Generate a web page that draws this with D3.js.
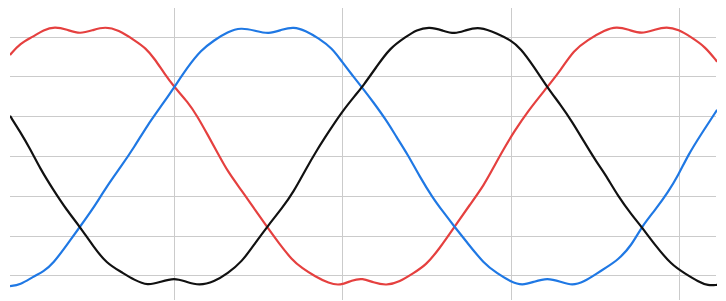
<!DOCTYPE html>
<html>
<head>
<meta charset="utf-8">
<script src="https://cdn.jsdelivr.net/npm/d3@7"></script>
<style>
  body { margin: 0; background: #fff; }
  .grid line { stroke: #cbcbcb; stroke-width: 1; shape-rendering: crispEdges; }
  .grid path { display: none; }
  .grid text { display: none; }
</style>
</head>
<body>
<script>
// time in ms, values per phase
var gridTimes = [6, 12, 18, 24];
var gridLevels = [-3, -2, -1, 0, 1, 2, 3];

var phaseA = [ // red
  [0.16, 2.54], [0.52, 2.83], [0.99, 3.00], [1.35, 3.17], [1.76, 3.25], [2.18, 3.18],
  [2.65, 3.06], [3.13, 3.17], [3.54, 3.25], [4.02, 3.17], [4.59, 2.91], [5.00, 2.71],
  [5.30, 2.45], [5.65, 2.08], [6.01, 1.73], [6.49, 1.36], [6.84, 0.99], [7.20, 0.53],
  [7.56, 0.07], [7.91, -0.39], [8.42, -0.88], [8.89, -1.36], [9.31, -1.78], [9.73, -2.19],
  [10.20, -2.61], [10.56, -2.82], [11.03, -3.03], [11.51, -3.20], [11.92, -3.26], [12.34, -3.12],
  [12.71, -3.07], [13.09, -3.18], [13.56, -3.26], [14.04, -3.16], [14.51, -2.95], [14.98, -2.74],
  [15.46, -2.32], [15.99, -1.78], [16.53, -1.23], [17.04, -0.73], [17.39, -0.27], [17.75, 0.19],
  [18.11, 0.61], [18.58, 1.11], [19.29, 1.73], [19.77, 2.16], [20.24, 2.66], [20.72, 2.91],
  [21.35, 3.17], [21.76, 3.25], [22.18, 3.18], [22.65, 3.06], [23.13, 3.18], [23.54, 3.25],
  [23.96, 3.18], [24.43, 2.98], [24.91, 2.75], [25.34, 2.37]
];

var phaseB = [ // blue
  [0.16, -3.27], [0.52, -3.24], [0.99, -3.03], [1.35, -2.91], [1.70, -2.70], [2.18, -2.24],
  [2.65, -1.78], [3.13, -1.31], [3.60, -0.77], [4.11, -0.27], [4.59, 0.23], [5.06, 0.78],
  [5.53, 1.24], [6.01, 1.73], [6.49, 2.24], [6.96, 2.66], [7.43, 2.91], [7.91, 3.12],
  [8.38, 3.23], [8.89, 3.15], [9.37, 3.06], [9.85, 3.18], [10.26, 3.25], [10.68, 3.15],
  [11.15, 2.96], [11.63, 2.71], [11.98, 2.37], [12.34, 2.04], [12.69, 1.73], [13.09, 1.36],
  [13.56, 0.90], [13.92, 0.48], [14.33, 0.03], [14.75, -0.52], [15.22, -1.06], [15.58, -1.40],
  [15.99, -1.78], [16.41, -2.15], [17.04, -2.71], [17.51, -2.95], [17.99, -3.16], [18.40, -3.26],
  [18.82, -3.16], [19.29, -3.06], [19.77, -3.16], [20.18, -3.26], [20.60, -3.16], [21.07, -2.95],
  [21.35, -2.82], [21.82, -2.61], [22.30, -2.24], [22.65, -1.78], [23.13, -1.36], [23.60, -0.90],
  [23.96, -0.48], [24.31, 0.03], [24.79, 0.57], [25.34, 1.16]
];

var phaseC = [ // black
  [0.16, 1.01], [0.52, 0.61], [0.87, 0.19], [1.23, -0.31], [1.70, -0.85], [2.18, -1.36],
  [2.65, -1.78], [3.13, -2.28], [3.60, -2.70], [4.11, -2.91], [4.59, -3.12], [5.06, -3.26],
  [5.53, -3.16], [6.01, -3.06], [6.43, -3.16], [6.90, -3.26], [7.43, -3.16], [7.91, -2.95],
  [8.42, -2.66], [8.89, -2.19], [9.37, -1.73], [9.85, -1.31], [10.26, -0.90], [10.68, -0.35],
  [11.09, 0.15], [11.51, 0.61], [11.98, 1.11], [12.46, 1.53], [12.73, 1.76], [13.21, 2.24],
  [13.68, 2.71], [14.27, 3.00], [14.63, 3.17], [15.10, 3.25], [15.58, 3.15], [15.99, 3.06],
  [16.41, 3.17], [16.88, 3.25], [17.51, 3.08], [17.99, 2.91], [18.34, 2.71], [18.82, 2.24],
  [19.29, 1.73], [19.77, 1.28], [20.18, 0.86], [20.60, 0.36], [21.07, -0.18], [21.35, -0.45],
  [21.82, -1.02], [22.30, -1.48], [22.65, -1.78], [23.13, -2.24], [23.72, -2.74], [24.19, -2.95],
  [24.67, -3.16], [25.02, -3.26], [25.34, -3.24]
];

var series = [
  { name: "A", values: phaseA, color: "#e5403f" },
  { name: "B", values: phaseB, color: "#1f78e4" },
  { name: "C", values: phaseC, color: "#111111" }
];

const margin = {top: 8, right: 10, bottom: 1, left: 10},
    width = 726 - margin.left - margin.right,
    height = 301 - margin.top - margin.bottom;

const svg = d3.select("body")
  .append("svg")
    .attr("width", width + margin.left + margin.right)
    .attr("height", height + margin.top + margin.bottom)
  .append("g")
    .attr("transform", `translate(${margin.left}, ${margin.top})`);

var x = d3.scaleLinear()
  .domain([0.16, 25.3])
  .range([0, width]);

var y = d3.scaleLinear()
  .domain([-3.62, 3.72])
  .range([height, 0]);

// vertical grid
svg.append("g")
  .attr("class", "grid")
  .attr("transform", `translate(0, ${height})`)
  .call(d3.axisBottom(x).tickValues(gridTimes).tickSize(-height).tickFormat(""));

// horizontal grid
svg.append("g")
  .attr("class", "grid")
  .call(d3.axisLeft(y).tickValues(gridLevels).tickSize(-width).tickFormat(""));

svg.append("clipPath")
  .attr("id", "clip")
  .append("rect")
    .attr("x", 0).attr("y", -margin.top)
    .attr("width", width + 1).attr("height", height + margin.top);

// smooth a bit so reading noise doesn't show as kinks
var line = d3.line()
  .x(d => x(d[0]))
  .y(d => y(d[1]))
  .curve(d3.curveBasis);

svg.selectAll(".wave")
  .data(series)
  .enter()
  .append("path")
    .attr("class", "wave")
    .attr("clip-path", "url(#clip)")
    .attr("d", d => line(d.values))
    .attr("fill", "none")
    .attr("stroke", d => d.color)
    .attr("stroke-width", 2.2)
    .attr("stroke-linejoin", "round");
</script>
</body>
</html>
